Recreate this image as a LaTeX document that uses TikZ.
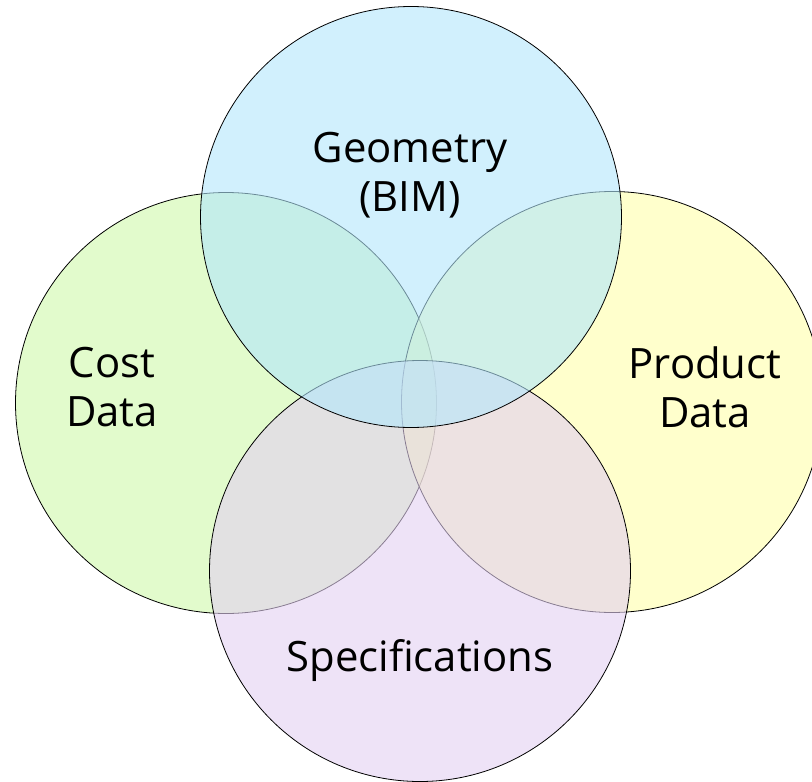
\documentclass[tikz,border=0pt]{standalone}
\usepackage{fontspec}
\setmainfont{Open Sans}
\usepackage{tikz}

\definecolor{geoblue}{RGB}{178,230,252}
\definecolor{costgreen}{RGB}{207,248,170}
\definecolor{prodyellow}{RGB}{255,255,170}
\definecolor{specpurple}{RGB}{227,208,242}

\tikzset{
  set/.style={circle, draw=black, line width=0.8bp, fill opacity=0.6, draw opacity=1, minimum size=421bp, inner sep=0pt},
  setlabel/.style={align=center, font=\fontsize{42}{49}\selectfont, text depth=0pt}
}

\begin{document}
\begin{tikzpicture}[x=1bp,y=-1bp]
\useasboundingbox (0,0) rectangle (812,782);

% the four sets, lowest first
\node[set, fill=costgreen]  (cost) at (226,403) {};
\node[set, fill=prodyellow] (prod) at (612,402) {};
\node[set, fill=specpurple] (spec) at (420,571) {};
\node[set, fill=geoblue]    (geo)  at (411,217) {};

% labels
\node[setlabel] (geo-t)  at (410,172) {Geometry\\(BIM)};
\node[setlabel] (cost-t) at (112,387) {Cost\\Data};
\node[setlabel] (prod-t) at (705,387) {Product\\Data};
\node[setlabel] (spec-t) at (420,655) {Specifications};

\end{tikzpicture}
\end{document}
